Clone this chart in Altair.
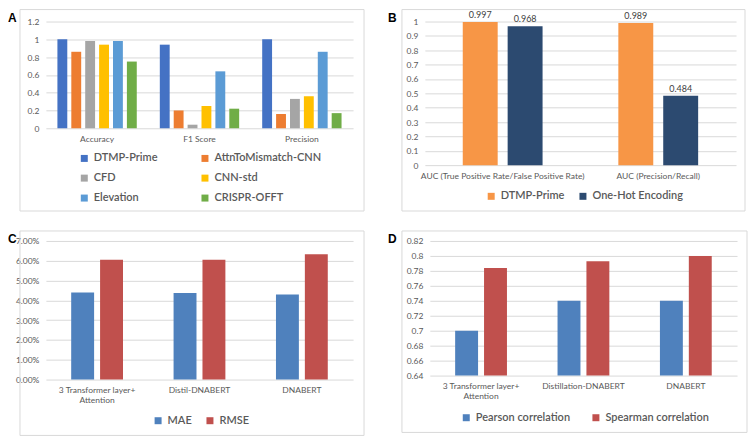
import altair as alt
import pandas as pd

# ---------------- data ----------------
a_metrics = ["Accuracy", "F1 Score", "Precision"]
a_models = ["DTMP-Prime", "AttnToMismatch-CNN", "CFD", "CNN-std", "Elevation", "CRISPR-OFFT"]
a_dtmp = [1.0, 0.94, 1.0]
a_attn = [0.86, 0.20, 0.16]
a_cfd = [0.98, 0.04, 0.33]
a_cnn = [0.94, 0.25, 0.36]
a_elev = [0.98, 0.64, 0.86]
a_offt = [0.75, 0.22, 0.17]
a_colors = ["#4472C4", "#ED7D31", "#A5A5A5", "#FFC000", "#5B9BD5", "#70AD47"]

b_metrics = ["AUC (True Positive Rate/False Positive Rate)", "AUC (Precision/Recall)"]
b_series = ["DTMP-Prime", "One-Hot Encoding"]
b_dtmp = [0.997, 0.989]
b_onehot = [0.968, 0.484]
b_colors = ["#F79646", "#2C4A70"]

c_models = ["3 Transformer layer+ Attention", "Distil-DNABERT", "DNABERT"]
c_series = ["MAE", "RMSE"]
c_mae = [0.0440, 0.0437, 0.0430]
c_rmse = [0.0605, 0.0605, 0.0633]

d_models = ["3 Transformer layer+ Attention", "Distillation-DNABERT", "DNABERT"]
d_series = ["Pearson correlation", "Spearman correlation"]
d_pearson = [0.70, 0.74, 0.74]
d_spearman = [0.784, 0.793, 0.80]
cd_colors = ["#4F81BD", "#C0504D"]

a_ticks = [0, 0.2, 0.4, 0.6, 0.8, 1.0, 1.2]
b_ticks = [0, 0.1, 0.2, 0.3, 0.4, 0.5, 0.6, 0.7, 0.8, 0.9, 1.0]
c_ticks = [0, 0.01, 0.02, 0.03, 0.04, 0.05, 0.06, 0.07]
d_ticks = [0.64, 0.66, 0.68, 0.70, 0.72, 0.74, 0.76, 0.78, 0.80, 0.82]


def long_df(cats, series, cols):
    rows = []
    for s, vals in zip(series, cols):
        for c, v in zip(cats, vals):
            rows.append({"cat": c, "series": s, "value": v})
    return pd.DataFrame(rows)


df_a = long_df(a_metrics, a_models, [a_dtmp, a_attn, a_cfd, a_cnn, a_elev, a_offt])
df_b = long_df(b_metrics, b_series, [b_dtmp, b_onehot])
df_c = long_df(c_models, c_series, [c_mae, c_rmse])
df_d = long_df(d_models, d_series, [d_pearson, d_spearman])

TXT = "#595959"
FONT = "Lato"
LABEL_EXPR = ("datum.label == '3 Transformer layer+ Attention' ? "
              "['3 Transformer layer+', 'Attention'] : datum.label")
RES = dict(color="independent", xOffset="independent", x="independent",
           y="independent")


def panel(df, cats, series, colors, domain, ticks, fmt, W, H, p_in, q_in,
          letter, box, letter_xy, leg_xy, col_pad, row_pad=8, with_labels=False,
          clip=False):
    x = alt.X("cat:N", sort=cats,
              scale=alt.Scale(paddingInner=p_in, paddingOuter=p_in / 2),
              axis=alt.Axis(title=None, labelAngle=0, ticks=False, domain=False,
                            labelPadding=6, labelLimit=400, labelFontSize=8.5,
                            labelLineHeight=10, labelExpr=LABEL_EXPR))
    xo = alt.XOffset("series:N", sort=series,
                     scale=alt.Scale(paddingInner=q_in, paddingOuter=0))
    y = alt.Y("value:Q",
              scale=alt.Scale(domain=domain, nice=False, zero=False),
              axis=alt.Axis(title=None, values=ticks, format=fmt, ticks=False,
                            domain=False, labelPadding=7, labelFontSize=8.5))
    color = alt.Color("series:N", sort=series,
                      scale=alt.Scale(domain=series, range=colors),
                      legend=alt.Legend(title=None, orient="none",
                                        legendX=leg_xy[0], legendY=leg_xy[1],
                                        direction="horizontal", columns=2,
                                        symbolType="square", symbolSize=49,
                                        symbolStrokeWidth=0, labelFontSize=11,
                                        labelFont=FONT, labelFontWeight=600,
                                        labelColor=TXT, labelOffset=4,
                                        columnPadding=col_pad, rowPadding=row_pad,
                                        labelLimit=300))
    base = alt.Chart(df).encode(x=x, xOffset=xo, y=y)
    layers = [base.mark_bar(clip=clip).encode(color=color)]
    if with_labels:
        layers.append(base.mark_text(dy=-2, baseline="bottom", fontSize=9,
                                     font=FONT, color="#404040")
                      .encode(text=alt.Text("value:Q", format=".3f")))
    dummy = alt.Data(values=[{"k": 1}])
    layers.append(alt.Chart(dummy).mark_rect(fillOpacity=0, stroke="#d9d9d9",
                                             strokeWidth=1)
                  .encode(x=alt.value(box[0]), x2=alt.value(box[1]),
                          y=alt.value(box[2]), y2=alt.value(box[3])))
    layers.append(alt.Chart(dummy).mark_text(align="left", baseline="alphabetic",
                                             font="Liberation Sans", fontWeight="bold",
                                             fontSize=12, color="#000000")
                  .encode(x=alt.value(letter_xy[0]), y=alt.value(letter_xy[1]),
                          text=alt.value(letter)))
    return alt.layer(*layers).properties(width=W, height=H)


HA, HB, HC, HD = 107, 144, 139, 135
pa = panel(df_a, a_metrics, a_models, a_colors, [0, 1.2], a_ticks, ".1~f",
           308, HA, 0.225, 0.29, "A", (-26, 319, -12, 190), (-38, 0.5),
           (33, HA + 24.5), 42, row_pad=8)
pb = panel(df_b, b_metrics, b_series, b_colors, [0, 1], b_ticks, ".1~f",
           312, HB, 0.487, 0.222, "B", (-23, 321, -12, 190), (-37, 0.5),
           (61, HB + 25.5), 13, with_labels=True)
pc = panel(df_c, c_models, c_series, cd_colors, [0, 0.07], c_ticks, ".2%",
           308, HC, 0.494, 0.207, "C", (-26, 319, -10, 195), (-38, 2.5),
           (107, HC + 35.5), 12)
pd_ = panel(df_d, d_models, d_series, cd_colors, [0.64, 0.82], d_ticks, ".2~f",
            308, HD, 0.494, 0.207, "D", (-28, 318, -10, 192), (-42, 2.5),
            (31, HD + 36.5), 20, clip=True)

chart = (alt.concat(pa, pb, pc, pd_, columns=2, align="none",
                    spacing={"row": 18, "column": 23})
         .resolve_scale(**RES)
         .properties(padding=0)
         .configure_view(stroke=None)
         .configure_axis(gridColor="#d9d9d9", gridWidth=1, labelColor=TXT,
                         labelFont=FONT)
         .configure_legend(labelFont=FONT))

chart.save("out.html", embed_options={"renderer": "svg", "actions": False})
